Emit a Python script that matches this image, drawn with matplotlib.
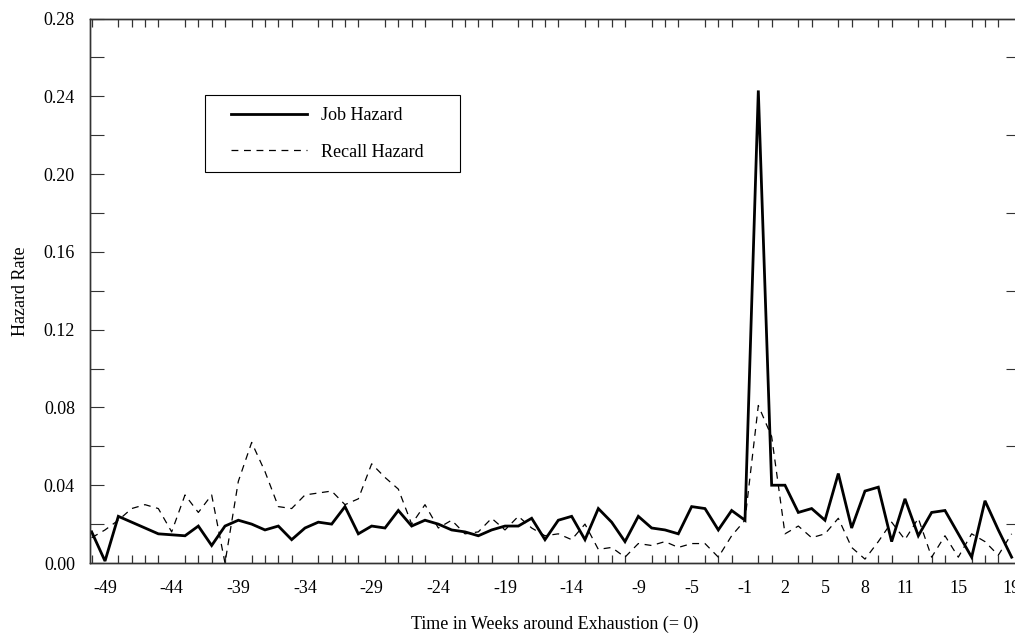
import matplotlib
matplotlib.use("Agg")
import matplotlib.pyplot as plt
from matplotlib.patches import Rectangle
import numpy as np

# Weeks relative to benefit exhaustion (week 0)
weeks = list(range(-50, 20))

job_hazard = [
    0.016, 0.001, 0.024, 0.021, 0.018, 0.015, 0.0145, 0.014, 0.019, 0.009,   # -50 .. -41
    0.019, 0.022, 0.020, 0.017, 0.019, 0.012, 0.018, 0.021, 0.020, 0.029,    # -40 .. -31
    0.015, 0.019, 0.018, 0.027, 0.019, 0.022, 0.020, 0.017, 0.016, 0.014,    # -30 .. -21
    0.017, 0.019, 0.019, 0.023, 0.012, 0.022, 0.024, 0.012, 0.028, 0.021,    # -20 .. -11
    0.011, 0.024, 0.018, 0.017, 0.015, 0.029, 0.028, 0.017, 0.027, 0.022,    # -10 .. -1
    0.243, 0.040, 0.040, 0.026, 0.028, 0.022, 0.046, 0.018, 0.037, 0.039,    # 0 .. 9
    0.011, 0.033, 0.014, 0.026, 0.027, 0.015, 0.003, 0.032, 0.017, 0.003,    # 10 .. 19
]

recall_hazard = [
    0.013, 0.017, 0.022, 0.028, 0.030, 0.028, 0.016, 0.035, 0.026, 0.035,    # -50 .. -41
    0.000, 0.042, 0.062, 0.047, 0.029, 0.028, 0.035, 0.036, 0.037, 0.030,    # -40 .. -31
    0.033, 0.051, 0.044, 0.038, 0.020, 0.030, 0.018, 0.022, 0.015, 0.016,    # -30 .. -21
    0.023, 0.017, 0.024, 0.018, 0.014, 0.015, 0.012, 0.020, 0.007, 0.008,    # -20 .. -11
    0.003, 0.010, 0.009, 0.011, 0.008, 0.010, 0.010, 0.003, 0.014, 0.022,    # -10 .. -1
    0.081, 0.065, 0.015, 0.019, 0.013, 0.015, 0.023, 0.008, 0.002, 0.011,    # 0 .. 9
    0.021, 0.012, 0.023, 0.003, 0.014, 0.003, 0.015, 0.011, 0.004, 0.015,    # 10 .. 19
]

x_tick_labels = [-49, -44, -39, -34, -29, -24, -19, -14, -9, -5, -1, 2, 5, 8, 11, 15, 19]
y_ticks = [0.00, 0.04, 0.08, 0.12, 0.16, 0.20, 0.24, 0.28]

plt.rcParams['font.family'] = ['Liberation Serif', 'DejaVu Serif']

W, H = 1015, 634
fig = plt.figure(figsize=(W / 100, H / 100), dpi=100)

px_per_week = 13.333
x_left = -50.125
x_right = 19.6
ax_left_px = 90
ax_width_px = (x_right - x_left) * px_per_week
ax = fig.add_axes([ax_left_px / W, (H - 563) / H, ax_width_px / W, (563 - 18.5) / H])

ax.plot(weeks, job_hazard, color='black', lw=2.0, solid_joinstyle='miter',
        label='Job Hazard', zorder=3)
ax.plot(weeks, recall_hazard, color='black', lw=0.9, dashes=(5.5, 4.5),
        label='Recall Hazard', zorder=2)

ax.set_xlim(x_left, x_right)
ax.set_ylim(0, 0.28)

# y axis: labelled majors every 0.04, unlabelled minors between
ax.set_yticks(y_ticks)
ax.set_yticklabels([f"{v:.2f}" for v in y_ticks])
ax.set_yticks(np.arange(0.02, 0.28, 0.04), minor=True)
ax.tick_params(axis='y', which='both', direction='in', length=10, width=0.8,
               colors='#333333', labelcolor='black', labelsize=13, pad=10.8,
               left=True, right=False)

# x axis: a small inward tick on every week, top and bottom
ax.set_xticks(x_tick_labels)
ax.set_xticklabels([str(v) for v in x_tick_labels])
ax.set_xticks(weeks, minor=True)
ax.tick_params(axis='x', which='major', length=0, labelsize=13, pad=12.5)
ax.tick_params(axis='x', which='minor', direction='in', length=6, width=0.9,
               colors='#333333', top=True, bottom=True)

# right-hand ticks at the odd hundredths
ax_r = ax.twinx()
ax_r.set_ylim(0, 0.28)
ax_r.set_yticks(np.arange(0.02, 0.28, 0.04))
ax_r.tick_params(axis='y', direction='in', length=10, width=0.8,
                 colors='#333333', labelright=False)

for a in (ax, ax_r):
    for s in a.spines.values():
        s.set_linewidth(1.0)
        s.set_color('#333333')

ax.set_ylabel('Hazard Rate', fontsize=13)
ax.yaxis.set_label_coords(-61.5 / ax_width_px, 0.5)
ax.set_xlabel('Time in Weeks around Exhaustion (= 0)', fontsize=13, labelpad=13)

# legend box with the entries inset from its left edge
box = Rectangle((205 / W, (H - 172) / H), 255 / W, 77 / H,
                transform=fig.transFigure, facecolor='white',
                edgecolor='black', linewidth=0.8, zorder=4, clip_on=False)
ax_r.add_patch(box)
leg = ax_r.legend(*ax.get_legend_handles_labels(), loc='upper left',
                  bbox_to_anchor=(220 / W, (H - 96) / H),
                  bbox_transform=fig.transFigure, borderaxespad=0,
                  fontsize=13, handlelength=4.2, handletextpad=0.8,
                  labelspacing=1.1, borderpad=0.6, frameon=False)
leg.set_zorder(6)

fig.savefig('out.png', dpi=100)
